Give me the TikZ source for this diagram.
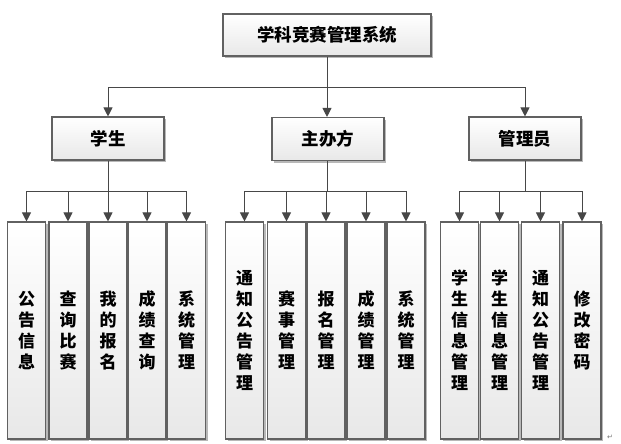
\documentclass[tikz,border=0pt]{standalone}
\usepackage{fontspec}
\newfontfamily\cjk{Noto Sans CJK SC}
\newfontfamily\dejavu{DejaVu Sans}
\usetikzlibrary{arrows.meta,shadows}
\begin{document}
\begin{tikzpicture}[x=1pt,y=-1pt,
  box/.style={draw=black!62, line width=1.1pt, top color=white, bottom color=black!9,
     drop shadow={shadow xshift=2pt, shadow yshift=-2pt, fill=black!35, opacity=0.8},
     inner sep=0pt, align=center, text=black},
  topbox/.style={box, minimum width=208pt, minimum height=42pt, font=\cjk\bfseries\fontsize{17.5}{20}\selectfont},
  midbox/.style={box, minimum width=112pt, minimum height=43pt, font=\cjk\bfseries\fontsize{17.5}{20}\selectfont},
  leaf/.style={box, minimum width=38pt, minimum height=217pt, text width=20pt, font=\cjk\bfseries\fontsize{17}{21}\selectfont},
  line/.style={draw=black!72, line width=1pt},
  arr/.style={line, -{Triangle[width=9pt,length=9pt]}}]
\useasboundingbox (0,0) rectangle (621,444);
% top
\node[topbox] (T) at (327,35) {学科竞赛管理系统};
% level 2
\node[midbox] (S) at (108,138.5) {学生};
\node[midbox] (Z) at (328,139) {主办方};
\node[midbox] (G) at (525,138.5) {管理员};
% leaves: students
\node[leaf] (s1) at (26.5,330.5) {\raisebox{-8pt}{\parbox{20pt}{\centering 公\\告\\信\\息}}};
\node[leaf] (s2) at (68,330.5) {\raisebox{-8pt}{\parbox{20pt}{\centering 查\\询\\比\\赛}}};
\node[leaf] (s3) at (108,330.5) {我\\的\\报\\名};
\node[leaf] (s4) at (147,330.5) {成\\绩\\查\\询};
\node[leaf] (s5) at (186.5,330.5) {系\\统\\管\\理};
% leaves: organiser
\node[leaf] (z1) at (244.5,330.5) {通\\知\\公\\告\\管\\理};
\node[leaf] (z2) at (286.5,330.5) {赛\\事\\管\\理};
\node[leaf] (z3) at (326,330.5) {报\\名\\管\\理};
\node[leaf] (z4) at (366,330.5) {成\\绩\\管\\理};
\node[leaf] (z5) at (406,330.5) {系\\统\\管\\理};
% leaves: admin
\node[leaf] (g1) at (459.5,330.5) {学\\生\\信\\息\\管\\理};
\node[leaf] (g2) at (499.5,330.5) {学\\生\\信\\息\\管\\理};
\node[leaf] (g3) at (540.5,330.5) {通\\知\\公\\告\\管\\理};
\node[leaf] (g4) at (582,330.5) {修\\改\\密\\码};
% connectors top
\coordinate (h0) at (327,87);
\draw[line] (T.south) -- (h0);
\draw[arr] (h0) -| (S.north);
\draw[arr] (h0) -- (h0 |- Z.north);
\draw[arr] (h0) -| (G.north);
% students
\coordinate (hs) at (108,191);
\draw[line] (S.south) -- (hs);
\foreach \n in {s1,s2,s3,s4,s5} \draw[arr] (hs) -| (\n.north);
% organiser
\coordinate (hz) at (327,191);
\draw[line] (Z.south -| hz) -- (hz);
\foreach \n in {z1,z2,z3,z4,z5} \draw[arr] (hz) -| (\n.north);
% admin
\coordinate (hg) at (525,191);
\draw[line] (G.south) -- (hg);
\foreach \n in {g1,g2,g3,g4} \draw[arr] (hg) -| (\n.north);
% return mark
\node[font=\dejavu\fontsize{7}{8}\selectfont, text=black!55, inner sep=0pt] (rm) at (610,437) {↵};
\end{tikzpicture}
\end{document}
